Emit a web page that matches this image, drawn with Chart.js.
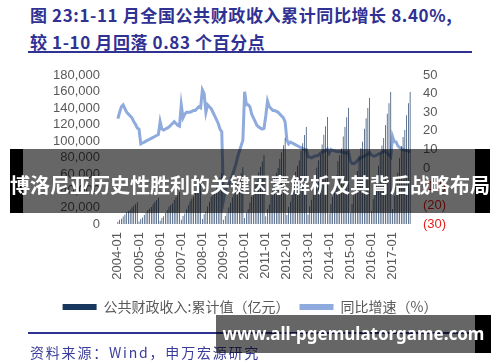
<!DOCTYPE html>
<html><head><meta charset="utf-8">
<script src="https://cdn.jsdelivr.net/npm/chart.js@4.4.0/dist/chart.umd.min.js"></script>
<style>
html,body{margin:0;padding:0;background:#fff;}
#wrap{position:relative;width:500px;height:362px;overflow:hidden;background:#fff;}
#c{position:absolute;left:0;top:0;}
.t{position:absolute;left:30px;color:#2f3193;font-family:"Noto Sans CJK SC","Noto Sans";font-weight:700;font-size:17px;white-space:nowrap;line-height:18px;letter-spacing:0.6px;}
.rule{position:absolute;left:28px;width:444px;height:2px;background:#2f3193;}
.src{position:absolute;left:30px;top:343px;color:#3a3c9c;font-family:"Noto Sans CJK SC";font-size:14px;line-height:18px;letter-spacing:1.8px;white-space:nowrap;}
.blk{position:absolute;background:#000;}
.gry{position:absolute;background:rgba(0,0,0,0.6);}
.bt{position:absolute;color:#fff;font-weight:700;white-space:nowrap;text-align:center;}
</style></head>
<body><div id="wrap">
<div class="t" style="top:6px">图 23:1-11 月全国公共财政收入累计同比增长 8.40%,</div>
<div class="t" style="top:33px">较 1-10 月回落 0.83 个百分点</div>
<div class="rule" style="top:51px"></div>
<canvas id="c" width="500" height="362"></canvas>
<div class="rule" style="top:332px"></div>
<div class="src">资料来源：Wind，申万宏源研究</div>
<div class="blk" style="left:10px;top:149px;width:13px;height:64px"></div>
<div class="gry" style="left:23px;top:149px;width:452px;height:64px"></div>
<div class="blk" style="left:475px;top:149px;width:15px;height:64px"></div>
<div class="bt" style="left:0;width:500px;top:171px;line-height:28px;font-size:20px;font-family:'Noto Sans CJK SC';">博洛尼亚历史性胜利的关键因素解析及其背后战略布局</div>
<div class="gry" style="left:216px;top:315px;width:259px;height:38px"></div>
<div class="blk" style="left:475px;top:315px;width:16px;height:38px"></div>
<div class="bt" style="left:216px;width:275px;top:321px;line-height:26px;font-size:17px;font-family:'Noto Sans','Open Sans';">www.all-pgemulatorgame.com</div>
</div>
<script>
const years = [2004,2005,2006,2007,2008,2009,2010,2011,2012,2013,2014,2015,2016,2017];
const monthsIn2017 = 11;
// 公共财政收入:累计值（亿元）
const rev2004 = [2640,5020,6470,9110,11610,14120,15710,17160,19800,22040,24150,26396];
const rev2005 = [3160,6010,7750,10920,13930,16930,18830,20570,23740,26430,28960,31649];
const rev2006 = [3880,7360,9500,13370,17050,20740,23060,25190,29070,32360,35470,38760];
const rev2007 = [5130,9750,12570,17710,22580,27460,30540,33360,38490,42850,46960,51322];
const rev2008 = [6130,11650,15030,21160,26990,32810,36490,39860,46000,51210,56120,61330];
const rev2009 = [5090,9720,13680,20050,25550,32330,36720,40840,49110,54840,61250,68518];
const rev2010 = [7180,13840,17980,25960,33060,42580,47580,52250,62170,69020,75490,83102];
const rev2011 = [9330,18260,23620,35020,44060,56200,61880,67510,78560,86720,95040,103874];
const rev2012 = [10730,20460,27010,38980,49380,62780,70220,76740,88320,97700,107410,117254];
const rev2013 = [11450,21540,29330,42560,53920,68120,76900,83780,96100,107710,118110,129210];
const rev2014 = [12860,23800,32540,46200,58900,75900,82980,91100,105640,117170,128870,140370];
const rev2015 = [13530,24400,34900,49920,64100,82520,91570,99390,115210,127680,140100,152269];
const rev2016 = [15830,30020,38900,54900,70360,85490,94930,103900,119700,133100,146000,159605];
const rev2017 = [18040,34030,44370,61770,79800,94300,104970,113620,131440,146000,159550];
// 同比增速（%）
const yoy2004 = [26.6,30,33,34,32,30,29,28,27,25,23.5,21.6];
const yoy2005 = [21,13,13.5,14,14.5,15,15.5,16,16.5,17,17.5,18];
const yoy2006 = [25,21,20.5,21,21.5,22,23,24,25,24,23,22.5];
const yoy2007 = [34,27,29,30,30,30,30.5,31,31,32,33,32.4];
const yoy2008 = [42,40,30,34,33,32,30,28,26,24,21,19.5];
const yoy2009 = [-17,-12,-10,-9,-7,-4,-1,2,6,9,12,15];
const yoy2010 = [41,34,34,33,29,27,25,23,22,21.5,21,21.3];
const yoy2011 = [28,36,33,32,31,31,30.5,30,29,28,27,24.8];
const yoy2012 = [15,13,14,13.5,13,12.5,12,11.5,11,10.5,10,10];
const yoy2013 = [6,6,5.5,6,6.5,6.5,7,8,8.5,9,9.5,10.2];
const yoy2014 = [8,10,9.5,9.3,9,8.8,9,8.7,8.5,8.3,8,8.6];
const yoy2015 = [4,2.5,2.4,3,4,5,5.5,6,6.5,7,7.5,8.4];
const yoy2016 = [7,6.5,6.5,7,7.5,8,8.5,9,9,8,7,6];
const yoy2017 = [17,14.2,14.1,12,11,10.5,10,9.5,9.5,9.2,8.4];

const revenue = [].concat(rev2004,rev2005,rev2006,rev2007,rev2008,rev2009,rev2010,rev2011,rev2012,rev2013,rev2014,rev2015,rev2016,rev2017);
const growth = [].concat(yoy2004,yoy2005,yoy2006,yoy2007,yoy2008,yoy2009,yoy2010,yoy2011,yoy2012,yoy2013,yoy2014,yoy2015,yoy2016,yoy2017);
const categories = [];
years.forEach(y => { const n = y === 2017 ? monthsIn2017 : 12; for (let m = 1; m <= n; m++) categories.push(y + '-' + String(m).padStart(2,'0')); });

const seriesNames = ['公共财政收入:累计值（亿元）', '同比增速（%）'];
const leftTicks = {min:0, max:180000, step:20000};
const rightTicks = {min:-30, max:50, step:10};

const tickFont = {family:"'Liberation Sans', Arial, sans-serif", size:13};
new Chart(document.getElementById('c'), {
  data: {
    labels: categories,
    datasets: [
      {type:'bar', label:seriesNames[0], data:revenue, yAxisID:'y', backgroundColor:'#243f66', barPercentage:0.4, categoryPercentage:1, order:0},
      {type:'line', label:seriesNames[1], data:growth, yAxisID:'y1', borderColor:'#8faadc', backgroundColor:'#8faadc', borderWidth:3, pointRadius:0, tension:0, order:1}
    ]
  },
  options: {
    responsive:false, animation:false, events:[],
    layout:{padding:{left:0,right:0,top:75,bottom:38}},
    plugins:{
      tooltip:{enabled:false},
      legend:{position:'bottom', labels:{
        color:'#595959', font:{family:"'Noto Sans CJK SC'", size:14}, boxWidth:34, boxHeight:6, padding:10,
        generateLabels:(chart)=> chart.data.datasets.map((d,i)=>({text:d.label, fillStyle:i===0?'#17375e':'#8faadc', strokeStyle:'rgba(0,0,0,0)', lineWidth:0, datasetIndex:i, fontColor:'#595959'}))
      }}
    },
    scales:{
      x:{type:'category', offset:true, grid:{display:false, drawTicks:false}, border:{display:false},
         afterFit:(s)=>{s.height=66;},
         ticks:{autoSkip:false, maxRotation:90, minRotation:90, padding:8, color:'#595959', font:tickFont,
           callback:function(v){const l=this.getLabelForValue(v); return l.endsWith('-01')?l:'';}}},
      y:{position:'left', min:leftTicks.min, max:leftTicks.max, grid:{display:false, drawTicks:false}, border:{display:false},
         afterFit:(s)=>{s.width=117;},
         ticks:{stepSize:leftTicks.step, autoSkip:false, padding:17, color:'#595959', font:tickFont, callback:(v)=>v.toLocaleString('en-US')}},
      y1:{position:'right', min:rightTicks.min, max:rightTicks.max, grid:{display:false, drawTicks:false}, border:{display:false},
         afterFit:(s)=>{s.width=89;},
         ticks:{stepSize:rightTicks.step, autoSkip:false, padding:12, font:tickFont,
           color:(ctx)=> ctx.tick && ctx.tick.value<0 ? '#e3201b' : '#595959',
           callback:(v)=> v<0 ? '('+(-v)+')' : String(v)}}
    }
  }
});
</script>
</body></html>
